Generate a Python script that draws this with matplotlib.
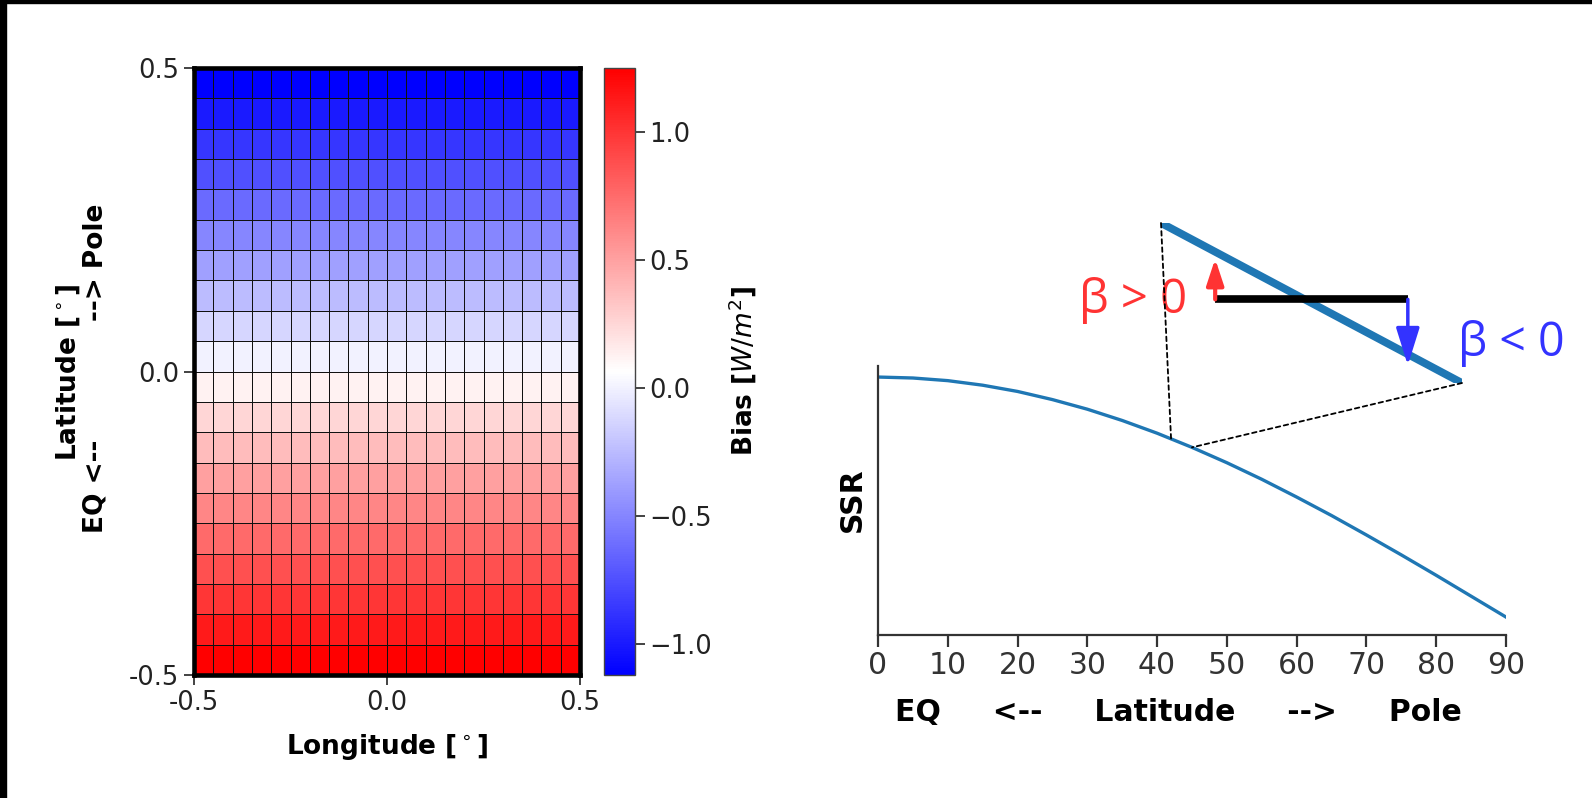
import numpy as np
import matplotlib
matplotlib.use("Agg")
import matplotlib.pyplot as plt
import matplotlib.transforms as mtransforms
from matplotlib.patches import ConnectionPatch, Rectangle

# ---------------- data ----------------
# bias per latitude row (bottom row = -0.5 ... top row = +0.5), same for every longitude
row_bias = [1.25, 1.125, 1.00, 0.876, 0.751, 0.626, 0.502, 0.377, 0.252, 0.127,
            0.003, -0.122, -0.247, -0.372, -0.496, -0.621, -0.746, -0.870, -0.995, -1.12]
n_lon = 20
heat_ticks = [-0.5, 0.0, 0.5]
heat_ticklabels = ["-0.5", "0.0", "0.5"]
cbar_ticks = [-1.0, -0.5, 0.0, 0.5, 1.0]

# SSR curve (normalised) vs latitude
lat = [0, 5, 10, 15, 20, 25, 30, 35, 40, 45, 50, 55, 60, 65, 70, 75, 80, 85, 90]
ssr = [1.000, 0.996, 0.985, 0.966, 0.940, 0.906, 0.866, 0.819, 0.766, 0.707,
       0.643, 0.574, 0.500, 0.423, 0.342, 0.259, 0.174, 0.087, 0.000]
lat_ticks = [0, 10, 20, 30, 40, 50, 60, 70, 80, 90]

# zoomed segment and annotation
zoom_lat = [42.0, 45.0]
bar_lat = [42.54, 44.46]
bar_level = 0.7255

# ---------------- figure ----------------
W, H = 1592, 798
fig = plt.figure(figsize=(W / 100, H / 100), dpi=100)


def rect(x0, y0, x1, y1):
    return [x0 / W, 1 - y1 / H, (x1 - x0) / W, (y1 - y0) / H]


# black frame strips (left, top)
fig.add_artist(Rectangle((0, 0), 6 / W, 1, transform=fig.transFigure, color="black", zorder=10))
fig.add_artist(Rectangle((0, 1 - 3 / H), 1, 3 / H, transform=fig.transFigure, color="black", zorder=10))

# ---------------- left: heat map ----------------
ax1 = fig.add_axes(rect(194, 68, 580, 675))
lon_edges = np.linspace(-0.5, 0.5, n_lon + 1)
lat_edges = np.linspace(-0.5, 0.5, len(row_bias) + 1)
bias = np.tile(np.array(row_bias)[:, None], (1, n_lon))
mesh = ax1.pcolormesh(lon_edges, lat_edges, bias, cmap="bwr",
                      vmin=min(row_bias), vmax=max(row_bias),
                      edgecolors="#111111", linewidth=0.65)
ax1.set_xlim(-0.5, 0.5)
ax1.set_ylim(-0.5, 0.5)
ax1.set_xticks(heat_ticks)
ax1.set_xticklabels(heat_ticklabels)
ax1.set_yticks(heat_ticks)
ax1.set_yticklabels(heat_ticklabels)
ax1.tick_params(labelsize=18.5, length=7, width=1.2, colors="#222222")
for s in ax1.spines.values():
    s.set_linewidth(3.3)
    s.set_color("black")
ax1.set_xlabel("Longitude [$^\\circ$]", fontsize=19, fontweight="bold", labelpad=12)

fig.text(68 / W, 1 - 372 / H, "Latitude [$^\\circ$]", rotation=90, ha="center", va="center",
         fontsize=19, fontweight="bold")
fig.text(96 / W, 1 - 368 / H, "EQ <--             --> Pole", rotation=90, ha="center",
         va="center", fontsize=19, fontweight="bold")

cax = fig.add_axes(rect(604, 68, 635, 675))
cb = fig.colorbar(mesh, cax=cax)
cb.set_ticks(cbar_ticks)
cax.tick_params(labelsize=18.5, length=7, width=1.2, colors="#222222")
cb.outline.set_linewidth(1.0)
cb.outline.set_edgecolor("#444444")
fig.text(743 / W, 1 - 371 / H, "Bias [$W/m^2$]", rotation=90, ha="center", va="center",
         fontsize=19, fontweight="bold")

# ---------------- right: SSR curve ----------------
ax2 = fig.add_axes(rect(878, 366, 1506, 634.6))
ax2.plot(lat, ssr, color="#1f77b4", lw=2.4)
ax2.set_xlim(0, 90)
ax2.set_ylim(-0.073, 1.046)
ax2.spines["top"].set_visible(False)
ax2.spines["right"].set_visible(False)
for s in ("left", "bottom"):
    ax2.spines[s].set_linewidth(1.6)
    ax2.spines[s].set_color("#333333")
ax2.set_yticks([])
ax2.set_xticks(lat_ticks)
ax2.set_xticklabels([str(v) for v in lat_ticks], fontsize=21.5)
ax2.tick_params(axis="x", length=8.6, width=1.6, colors="#333333")
ax2.set_xlabel("EQ     <--     Latitude     -->     Pole", fontsize=21.5,
               fontweight="bold")
ax2.xaxis.set_label_coords(0.478, -0.236)
fig.text(852 / W, 1 - 500 / H, "SSR", rotation=90, ha="center", va="center",
         fontsize=21.5, fontweight="bold")

# ---------------- inset (zoomed segment) ----------------
z0, z1 = zoom_lat
s0 = float(np.interp(z0, lat, ssr))
s1 = float(np.interp(z1, lat, ssr))
ax3 = fig.add_axes(rect(1161, 223, 1462, 383))
ax3.plot(lat, ssr, color="#1f77b4", lw=5.6)
ax3.set_xlim(z0, z1)
ax3.set_ylim(s1, s0)
ax3.axis("off")

ax3.plot(bar_lat, [bar_level, bar_level], color="black", lw=5.5, solid_capstyle="butt")
up_to = float(np.interp(bar_lat[0], lat, ssr))
down_to = float(np.interp(bar_lat[1], lat, ssr))
ax3.annotate("", xy=(bar_lat[0], up_to), xytext=(bar_lat[0], bar_level),
             arrowprops=dict(arrowstyle="-|>,head_length=0.79,head_width=0.26",
                             color="#ff3333", lw=3, mutation_scale=20,
                             shrinkA=0, shrinkB=5))
below = ax3.transData + mtransforms.ScaledTranslation(0, -8 / 72, fig.dpi_scale_trans)
ax3.annotate("", xy=(bar_lat[1], down_to), xycoords=below,
             xytext=(bar_lat[1], bar_level), textcoords="data",
             arrowprops=dict(arrowstyle="-|>,head_length=1.15,head_width=0.36",
                             color="#3333ff", lw=2.5, mutation_scale=20,
                             shrinkA=0, shrinkB=0))
ax3.text(0.086, 0.44, "β > 0", transform=ax3.transAxes, ha="right", va="baseline",
         color="#ff3333", fontsize=34, family=["Open Sans", "DejaVu Sans"])
ax3.text(0.987, 0.17, "β < 0", transform=ax3.transAxes, ha="left", va="baseline",
         color="#3333ff", fontsize=33.5, family=["Open Sans", "DejaVu Sans"])

for zx, zy in ((z0, s0), (z1, s1)):
    con = ConnectionPatch(xyA=(zx, zy), coordsA=ax3.transData,
                          xyB=(zx, zy), coordsB=ax2.transData,
                          color="black", lw=1.3, linestyle=(0, (2.5, 2)))
    fig.add_artist(con)

fig.savefig("out.png", dpi=100, facecolor="white")
